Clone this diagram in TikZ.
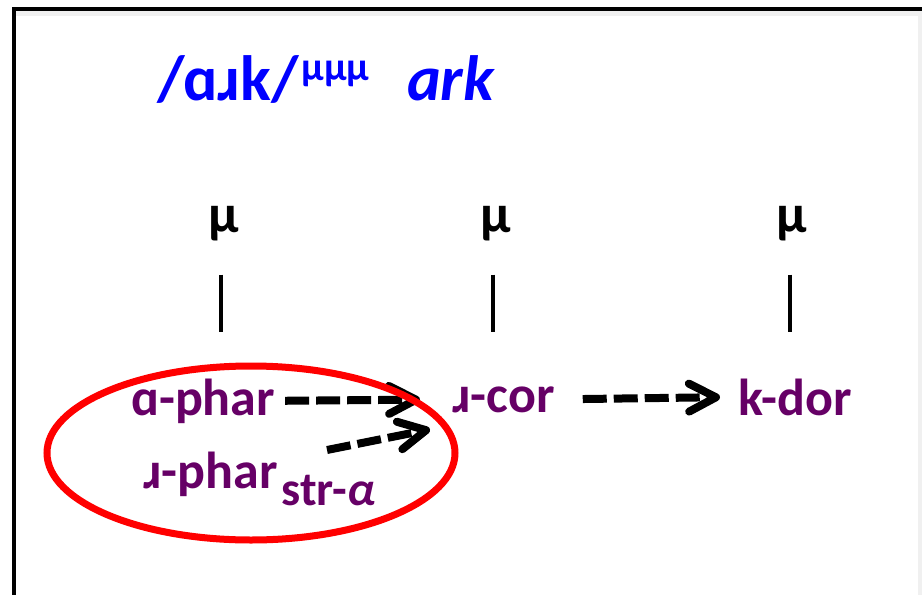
\documentclass[tikz,border=0pt]{standalone}
\usepackage{fontspec}
\setmainfont{Carlito}
\usetikzlibrary{arrows.meta}

\definecolor{phon}{RGB}{102,0,102}

\begin{document}
\begin{tikzpicture}[
    x=1pt, y=-1pt,
    every node/.style={inner sep=0pt, font=\bfseries},
    head/.style={text=blue, anchor=base west, font=\fontsize{64}{70}\selectfont\bfseries},
    seg/.style={text=phon, anchor=base west, font=\fontsize{52}{60}\selectfont\bfseries},
    mora/.style={anchor=center, font=\fontsize{54}{60}\selectfont\bfseries},
    assoc/.style={line width=4.5pt},
    flow/.style={line width=8pt, dash pattern=on 24pt off 7pt, -{Straight Barb[length=27pt, width=28pt, round]}}
]
\useasboundingbox (0,0) rectangle (922,595);

% frame with a soft edge inside
\fill[gray!12] (16,11) rectangle (922,16);
\fill[gray!12] (918,11) rectangle (922,595);
\draw[line width=4pt] (14,595) -- (14,9) -- (922,9);

% heading
\node[head] (form) at (157,100) {/ɑɹk/\kern3pt\raisebox{20pt}{\fontsize{40}{44}\selectfont μμμ}};
\node[head] (word) at (407,100) {\itshape ark};

% moras and association lines
\node[mora] (mu1) at (224,224) {μ};
\node[mora] (mu2) at (496,224) {μ};
\node[mora] (mu3) at (792,224) {μ};
\coordinate (s1) at (221,332);
\coordinate (s2) at (493,332);
\coordinate (s3) at (790,332);
\draw[assoc] (mu1.south -| s1) ++(0,33) -- (s1);
\draw[assoc] (mu2.south -| s2) ++(0,33) -- (s2);
\draw[assoc] (mu3.south -| s3) ++(0,33) -- (s3);

% segments
\node[seg] (aphar) at (131,415) {ɑ-phar};
\node[seg] (rcor) at (452,412) {ɹ-cor};
\node[seg] (kdor) at (738,415) {k-dor};
\node[seg] (rphar) at (143,488) {ɹ-phar\kern4pt\raisebox{-17pt}{\fontsize{48}{52}\selectfont str-\textit{α}}};

% spreading arrows
\coordinate (rtail) at ([shift={(184,-38)}]rphar.base west);
\coordinate (rhead) at ([shift={(-22,30)}]rcor.west);
\draw[flow, shorten <=10pt, shorten >=32pt] (aphar.east) -- (rcor.west);
\draw[flow] (rtail) -- (rhead);
\draw[flow, shorten <=28pt, shorten >=18pt] (rcor.east) -- (kdor.west);

\draw[red, line width=7pt] (251,453) ellipse [x radius=204, y radius=87];
\end{tikzpicture}
\end{document}
